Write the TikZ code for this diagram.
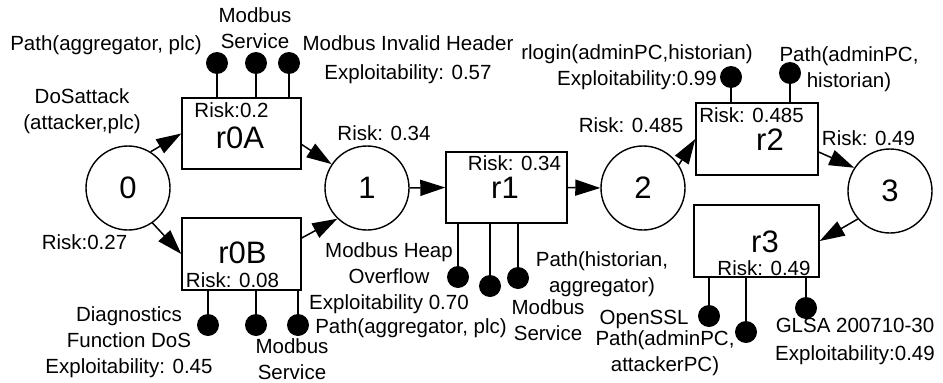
\documentclass[tikz,border=0pt]{standalone}
\usepackage{fontspec}
\setmainfont{Liberation Sans}
\usetikzlibrary{arrows.meta}
\newcommand\lblfont{\fontsize{20.5}{26}\selectfont}
\newcommand\bigfont{\fontsize{31}{33}\selectfont}
\begin{document}
\begin{tikzpicture}[x=1pt,y=-1pt,
  state/.style={circle, draw, line width=1.4pt, minimum size=84pt, inner sep=0pt, font=\bigfont},
  rulebox/.style={rectangle, draw, line width=1.4pt, inner sep=0pt},
  pindot/.style={circle, fill=black, minimum size=22pt, inner sep=0pt},
  lbl/.style={font=\lblfont, align=center, inner sep=0pt},
  big/.style={font=\bigfont, inner sep=0pt},
  edge/.style={line width=1.5pt, -{Triangle[length=25pt,width=16pt]}},
  pinline/.style={line width=1.4pt}]
\useasboundingbox (0,0) rectangle (943,383);

% states
\node[state] (c0) at (128,188) {0};
\node[state] (c1) at (367,188) {1};
\node[state] (c2) at (643,188) {2};
\node[state] (c3) at (890,191) {3};

% rule boxes
\node[rulebox, minimum width=119pt, minimum height=71pt] (r0A) at (241.5,133.5) {};
\node[rulebox, minimum width=119pt, minimum height=72pt] (r0B) at (241.5,254) {};
\node[rulebox, minimum width=121pt, minimum height=71pt] (r1) at (506.5,187.5) {};
\node[rulebox, minimum width=122pt, minimum height=72pt] (r2) at (757,139) {};
\node[rulebox, minimum width=125pt, minimum height=72pt] (r3) at (756.5,241) {};

% texts in boxes
\node[lbl] (t5) at (231.5,110) {Risk:0.2};
\node[big] (t6) at (240,138) {r0A};
\node[big] (t9) at (242.5,253) {r0B};
\node[lbl] (t10) at (232.5,280) {Risk: 0.08};
\node[lbl] (t15) at (514.5,163) {Risk: 0.34};
\node[big] (t16) at (505,188) {r1};
\node[lbl] (t27) at (751.5,115) {Risk: 0.485};
\node[big] (t28) at (770,140) {r2};
\node[big] (t21) at (765,242) {r3};
\node[lbl] (t22) at (764,268) {Risk: 0.49};

% pins
\node[pindot] (a1) at (217,63) {};
\node[pindot] (a2) at (256,63) {};
\node[pindot] (a3) at (289,63) {};
\node[pindot] (b1) at (208,325) {};
\node[pindot] (b2) at (256,325) {};
\node[pindot] (b3) at (298,325) {};
\node[pindot] (d1) at (458,277) {};
\node[pindot] (d2) at (490,286) {};
\node[pindot] (d3) at (518,278) {};
\node[pindot] (e1) at (731,77) {};
\node[pindot] (e2) at (790,73) {};
\node[pindot] (f1) at (709,316) {};
\node[pindot] (f2) at (746,332) {};
\node[pindot] (f3) at (806,308) {};

\foreach \p in {a1,a2,a3} \draw[pinline] (\p) -- (\p |- r0A.north);
\foreach \p in {b1,b2,b3} \draw[pinline] (\p) -- (\p |- r0B.south);
\foreach \p in {d1,d2,d3} \draw[pinline] (\p) -- (\p |- r1.south);
\foreach \p in {e1,e2} \draw[pinline] (\p) -- (\p |- r2.north);
\foreach \p in {f1,f2,f3} \draw[pinline] (\p) -- (\p |- r3.south);

% edges
\draw[edge] (c0.58) -- (r0A.west);
\draw[edge] (c0.-55) -- (r0B.west);
\draw[edge] ([yshift=-11pt]r0A.east) -- (c1.146);
\draw[edge] ([yshift=16pt]r0B.east) -- (c1.-134);
\draw[edge] (c1.east) -- (r1.west);
\draw[edge] (r1.east) -- (c2.west);
\draw[edge] (c2.33) -- (r2.west);
\draw[edge] ([yshift=-13pt]r2.east) -- (c3.147);
\draw[edge] (c3.221) -- (r3.east);

% outer labels
\node[lbl] (t1) at (106,45) {Path(aggregator, plc)};
\node[lbl] (t2) at (255,28.5) {Modbus\\Service};
\node[lbl] (t3) at (408,60) {Modbus Invalid Header\\[3pt]Exploitability: 0.57};
\node[lbl] (t4) at (82,111.5) {DoSattack\\(attacker,plc)};
\node[lbl] (t7) at (384,133) {Risk: 0.34};
\node[lbl] (t8) at (84.5,242) {Risk:0.27};
\node[lbl] (t11) at (129,342) {Diagnostics\\Function DoS\\Exploitability: 0.45};
\node[lbl] (t12) at (292,359) {Modbus\\Service};
\node[lbl] (t13) at (389,278) {Modbus Heap\\Overflow\\Exploitability 0.70};
\node[lbl] (t14) at (411,328) {Path(aggregator, plc)};
\node[lbl] (t17) at (602,274.5) {Path(historian,\\aggregator)};
\node[lbl] (t18) at (548,320) {Modbus\\Service};
\node[lbl] (t19) at (644,319) {OpenSSL};
\node[lbl] (t20) at (665,353.5) {Path(adminPC,\\attackerPC)};
\node[lbl] (t23) at (855,341) {GLSA 200710-30\\[2pt]Exploitability:0.49};
\node[lbl] (t24) at (637,67.5) {rlogin(adminPC,historian)\\Exploitability:0.99};
\node[lbl] (t25) at (849,69.5) {Path(adminPC,\\historian)};
\node[lbl] (t26) at (631,125) {Risk: 0.485};
\node[lbl] (t29) at (868.5,138) {Risk: 0.49};
\end{tikzpicture}
\end{document}
